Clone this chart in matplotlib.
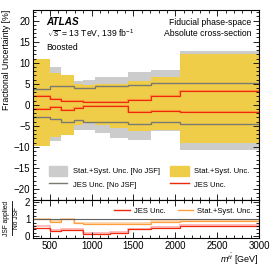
import matplotlib
matplotlib.use("Agg")
import matplotlib.pyplot as plt
from matplotlib.patches import Patch
from matplotlib.lines import Line2D
from matplotlib.ticker import MultipleLocator
import numpy as np

plt.rcParams['font.family'] = ['Liberation Sans', 'DejaVu Sans']
plt.rcParams['mathtext.fontset'] = 'custom'
plt.rcParams['mathtext.rm'] = 'Liberation Sans'
plt.rcParams['mathtext.it'] = 'Liberation Sans:italic'

# ---- data ----
edges = [300, 500, 630, 790, 900, 1040, 1220, 1440, 1710, 2060, 3000]
tot_nojsf_up = [10.8, 9.1, 7.0, 5.7, 5.9, 6.7, 6.7, 7.7, 8.3, 12.9]
tot_nojsf_dn = [-9.6, -8.7, -7.0, -6.0, -6.0, -6.8, -8.0, -8.4, -6.2, -10.8]
tot_up = [11.0, 7.5, 7.1, 4.9, 4.8, 4.9, 4.9, 5.6, 6.6, 12.0]
tot_dn = [-9.9, -7.6, -7.1, -4.8, -4.4, -4.8, -5.6, -6.3, -6.0, -9.1]
jes_nojsf_up = [3.7, 4.5, 4.4, 3.9, 4.1, 4.4, 4.5, 4.7, 5.2, 5.1]
jes_nojsf_dn = [-2.9, -3.3, -4.2, -3.6, -4.0, -4.0, -4.0, -4.6, -4.2, -4.6]
jes_up = [2.2, 1.35, 0.95, 0.9, 0.6, 0.6, 0.75, 1.2, 2.2, 3.3]
jes_dn = [-1.0, -0.6, -1.35, -0.8, -0.4, -0.25, -0.25, -1.8, -1.4, -1.8]
ratio_jes = [0.5, 0.31, 0.37, 0.37, 0.15, 0.15, 0.22, 0.4, 0.5, 0.6]
ratio_jes_b = [0.58, 0.38, 0.43, 0.43, 0.2, 0.2, 0.27, 0.45, 0.55, 0.65]
ratio_tot = [1.0, 0.86, 1.0, 0.76, 0.74, 0.72, 0.72, 0.72, 0.84, 0.9]
ratio_tot_b = [1.0, 0.9, 1.0, 0.8, 0.78, 0.76, 0.76, 0.76, 0.87, 0.93]

GREY_BAND = '#cccccc'
YELLOW = '#efcd48'
GREY_LINE = '#7a7a72'
RED = '#f0280a'
ORANGE = '#ffa040'

fig = plt.figure(figsize=(2.74, 2.66), dpi=100)
L, R = 33/274, 259/274
ax = fig.add_axes([L, 0.25, R-L, 0.962-0.25])
rx = fig.add_axes([L, 1-238/266, R-L, 0.25-(1-238/266)], sharex=ax)

ax.stairs(tot_nojsf_up, edges, baseline=tot_nojsf_dn, fill=True, color=GREY_BAND, lw=0)
ax.stairs(tot_up, edges, baseline=tot_dn, fill=True, color=YELLOW, lw=0)
for v in (jes_nojsf_up, jes_nojsf_dn):
    ax.stairs(v, edges, baseline=None, color=GREY_LINE, lw=1.0)
for v in (jes_up, jes_dn):
    ax.stairs(v, edges, baseline=None, color='#ff7a30', lw=1.6, alpha=0.6)
    ax.stairs(v, edges, baseline=None, color=RED, lw=0.8)

ax.set_xlim(300, 3000)
ax.set_ylim(-22.5, 22.5)
ax.yaxis.set_major_locator(MultipleLocator(5))
ax.yaxis.set_minor_locator(MultipleLocator(1))
ax.xaxis.set_major_locator(MultipleLocator(500))
ax.xaxis.set_minor_locator(MultipleLocator(100))
ax.set_ylabel('Fractional Uncertainty [%]', fontsize=6.3, loc='top', labelpad=2)
plt.setp(ax.get_xticklabels(), visible=False)

for a in (ax, rx):
    a.tick_params(which='both', direction='in', top=True, right=True, labelsize=7, width=0.6, pad=2)
    a.tick_params(which='major', length=4)
    a.tick_params(which='minor', length=2)
    for s in a.spines.values():
        s.set_linewidth(0.8)

ax.text(0.06, 0.935, 'ATLAS', transform=ax.transAxes, fontsize=7.2, fontweight='bold', style='italic', va='center')
ax.text(0.06, 0.875, r'$\sqrt{s}$ = 13 TeV, 139 fb$^{-1}$', transform=ax.transAxes, fontsize=6.2, va='center')
ax.text(0.06, 0.805, 'Boosted', transform=ax.transAxes, fontsize=6.2, va='center')
ax.text(0.965, 0.935, 'Fiducial phase-space', transform=ax.transAxes, fontsize=6.2, va='center', ha='right')
ax.text(0.965, 0.875, 'Absolute cross-section', transform=ax.transAxes, fontsize=6.2, va='center', ha='right')

handles = [Patch(color=GREY_BAND), Line2D([], [], color=GREY_LINE, lw=1.0),
           Patch(color=YELLOW), Line2D([], [], color=RED, lw=1.0)]
labels = ['Stat.+Syst. Unc. [No JSF]', 'JES Unc. [No JSF]', 'Stat.+Syst. Unc.', 'JES Unc.']
ax.legend(handles, labels, ncol=2, loc='lower left', bbox_to_anchor=(0.04, 0.015), frameon=False,
          fontsize=5.5, handlelength=2.4, handleheight=1.7, columnspacing=1.4, labelspacing=0.45,
          handletextpad=0.7)

rx.axhline(1.0, color='#606060', lw=0.8)
rx.stairs(ratio_jes_b, edges, baseline=None, color='#ffb0b0', lw=1.2)
rx.stairs(ratio_jes, edges, baseline=None, color=RED, lw=0.9)
rx.stairs(ratio_tot_b, edges, baseline=None, color='#ffd0a0', lw=1.2)
rx.stairs(ratio_tot, edges, baseline=None, color=ORANGE, lw=0.9)
rx.set_ylim(-0.1, 2.15)
rx.yaxis.set_major_locator(MultipleLocator(1))
rx.yaxis.set_minor_locator(MultipleLocator(0.2))
rx.set_xlim(300, 3000)

# ratio y label as a fraction
yc = 1 - 218/266
fig.text(7/274, yc, 'JSF applied', rotation=90, fontsize=4.8, ha='center', va='center')
fig.text(16.5/274, yc, 'No JSF', rotation=90, fontsize=4.8, ha='center', va='center')
fig.add_artist(Line2D([12/274, 12/274], [yc - 17/266, yc + 17/266], color='black', lw=0.6,
                      transform=fig.transFigure))

rx.set_xlabel(r'$m^{t\bar{t}}$ [GeV]', fontsize=6.5, ha='right', va='top')
rx.xaxis.set_label_coords(1.0, -0.36)
rx.legend([Line2D([], [], color=RED, lw=1.0), Line2D([], [], color=ORANGE, lw=1.0)],
          ['JES Unc.', 'Stat.+Syst. Unc.'], ncol=2, loc='upper left', bbox_to_anchor=(0.33, 0.97),
          frameon=False, fontsize=5.5, handlelength=2.0, columnspacing=1.5, handletextpad=0.6)

fig.savefig('out.png', dpi=100)
